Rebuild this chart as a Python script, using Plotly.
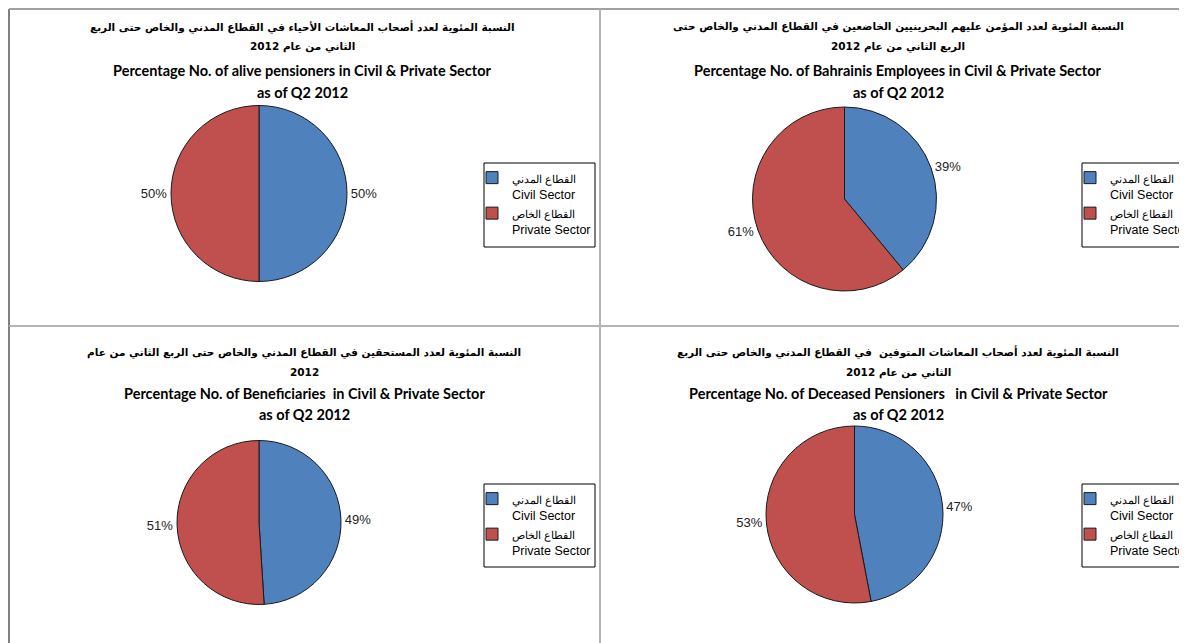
"""
SIO pie charts — civil vs private sector shares, Q2 2012
"""

import plotly.graph_objects as go


# ── 데이터 ────────────────────────────────────────────────────────────────
SECTOR_AR = ['القطاع المدني', 'القطاع الخاص']
SECTOR_EN = ['Civil Sector', 'Private Sector']

# order: top-left, top-right, bottom-left, bottom-right
CIVIL   = [50, 39, 49, 47]
PRIVATE = [50, 61, 51, 53]

TITLE_AR = [
    ['النسبة المئوية لعدد أصحاب المعاشات الأحياء في القطاع المدني والخاص حتى الربع',
     'الثاني من عام 2012'],
    ['النسبة المئوية لعدد المؤمن عليهم البحرينيين الخاضعين في القطاع المدني والخاص حتى',
     'الربع الثاني من عام 2012'],
    ['النسبة المئوية لعدد المستحقين في القطاع المدني والخاص حتى الربع الثاني من عام',
     '2012'],
    ['النسبة المئوية لعدد أصحاب المعاشات المتوفين  في القطاع المدني والخاص حتى الربع',
     'الثاني من عام 2012'],
]
TITLE_EN = [
    'Percentage No. of alive pensioners in Civil & Private Sector',
    'Percentage No. of Bahrainis Employees in Civil & Private Sector',
    'Percentage No. of Beneficiaries  in Civil & Private Sector',
    'Percentage No. of Deceased Pensioners   in Civil & Private Sector',
]
TITLE_SUB = 'as of Q2 2012'


# ── 스타일 / 배치 ─────────────────────────────────────────────────────────
# the html body keeps its 8px margin, so the figure starts 8px in from the corner
OFF = 8
W, H = 1187, 643
COLORS = ['#4F81BD', '#C0504D']
FONT_AR = 'DejaVu Sans'
FONT_EN = 'Lato'
FONT_XL = 'Liberation Sans'

# pie boxes in screen pixels: (left, right, top, bottom)
PIE_BOX = [(171, 347, 105, 282), (752, 937, 107, 291),
           (177, 341, 440, 605), (766, 943, 426, 603)]
TITLE_CX = [302, 898, 304, 898]
TITLE_ROWS = [[27, 47, 71, 92], [352, 372, 393, 414]]
LEGEND_XY = [(472, 163), (1070, 163), (472, 484), (1070, 484)]
LEGEND_BOX = [(484, 595, 163, 247), (1082, 1193, 163, 247),
              (484, 595, 484, 567), (1082, 1193, 484, 567)]


def px_x(v):
    return (v - OFF) / W


def px_y(v):
    return 1 - (v - OFF) / H


fig = go.Figure()
legend_layout = {}
annotations = []
shapes = []

for i in range(4):
    l, r, t, b = PIE_BOX[i]
    lg = 'legend' if i == 0 else f'legend{i + 1}'
    fig.add_trace(go.Pie(
        labels       = [f'<span style="font-size:11px">{a}</span><br>{e}'
                        for a, e in zip(SECTOR_AR, SECTOR_EN)],
        values       = [CIVIL[i], PRIVATE[i]],
        sort         = False,
        direction    = 'clockwise',
        rotation     = 0,
        marker       = dict(colors=COLORS, line=dict(color='#1a1a1a', width=1)),
        texttemplate = '%{value}%',
        textposition = 'outside',
        outsidetextfont = dict(family=FONT_XL, size=13, color='#222222'),
        hoverinfo    = 'label+percent',
        domain       = dict(x=[px_x(l), px_x(r)], y=[px_y(b), px_y(t)]),
        legend       = lg,
        legendgroup  = f'g{i}',
    ))

    lx, ly = LEGEND_XY[i]
    legend_layout[lg] = dict(
        x=px_x(lx), y=px_y(ly), xanchor='left', yanchor='top',
        bgcolor='rgba(0,0,0,0)', borderwidth=0,
        font=dict(family=FONT_XL, size=12.5, color='#000000'),
        valign='top',
    )
    bl, br, bt, bb = LEGEND_BOX[i]
    shapes.append(dict(type='rect', xref='paper', yref='paper',
                       x0=px_x(bl), x1=px_x(br), y0=px_y(bb), y1=px_y(bt),
                       line=dict(color='#000000', width=1)))

    # 제목
    cx = px_x(TITLE_CX[i])
    ys = TITLE_ROWS[i // 2]
    lines = [(TITLE_AR[i][0], FONT_AR, 10.5, ys[0]),
             (TITLE_AR[i][1], FONT_AR, 10.5, ys[1]),
             (TITLE_EN[i], FONT_EN, 14.5, ys[2]),
             (TITLE_SUB, FONT_EN, 14.5, ys[3])]
    for txt, fam, sz, yy in lines:
        annotations.append(dict(
            x=cx, y=px_y(yy), xref='paper', yref='paper',
            text=f'<b>{txt}</b>', showarrow=False,
            xanchor='center', yanchor='middle',
            font=dict(family=fam, size=sz, color='#000000'),
        ))

# 패널 테두리
grid = '#b4b4b4'
shapes += [
    dict(type='line', xref='paper', yref='paper', x0=px_x(9), x1=px_x(9),
         y0=0, y1=px_y(9), line=dict(color='#808080', width=2)),
    dict(type='line', xref='paper', yref='paper', x0=px_x(9), x1=1,
         y0=px_y(9), y1=px_y(9), line=dict(color='#a0a0a0', width=2)),
    dict(type='line', xref='paper', yref='paper', x0=px_x(600), x1=px_x(600),
         y0=0, y1=px_y(9), line=dict(color=grid, width=2)),
    dict(type='line', xref='paper', yref='paper', x0=px_x(9), x1=1,
         y0=px_y(326), y1=px_y(326), line=dict(color=grid, width=2)),
]

fig.update_layout(
    width         = W,
    height        = H,
    margin        = dict(l=0, r=0, t=0, b=0),
    paper_bgcolor = 'white',
    plot_bgcolor  = 'white',
    showlegend    = True,
    annotations   = annotations,
    shapes        = shapes,
    **legend_layout,
)

fig.write_html('out.html')
